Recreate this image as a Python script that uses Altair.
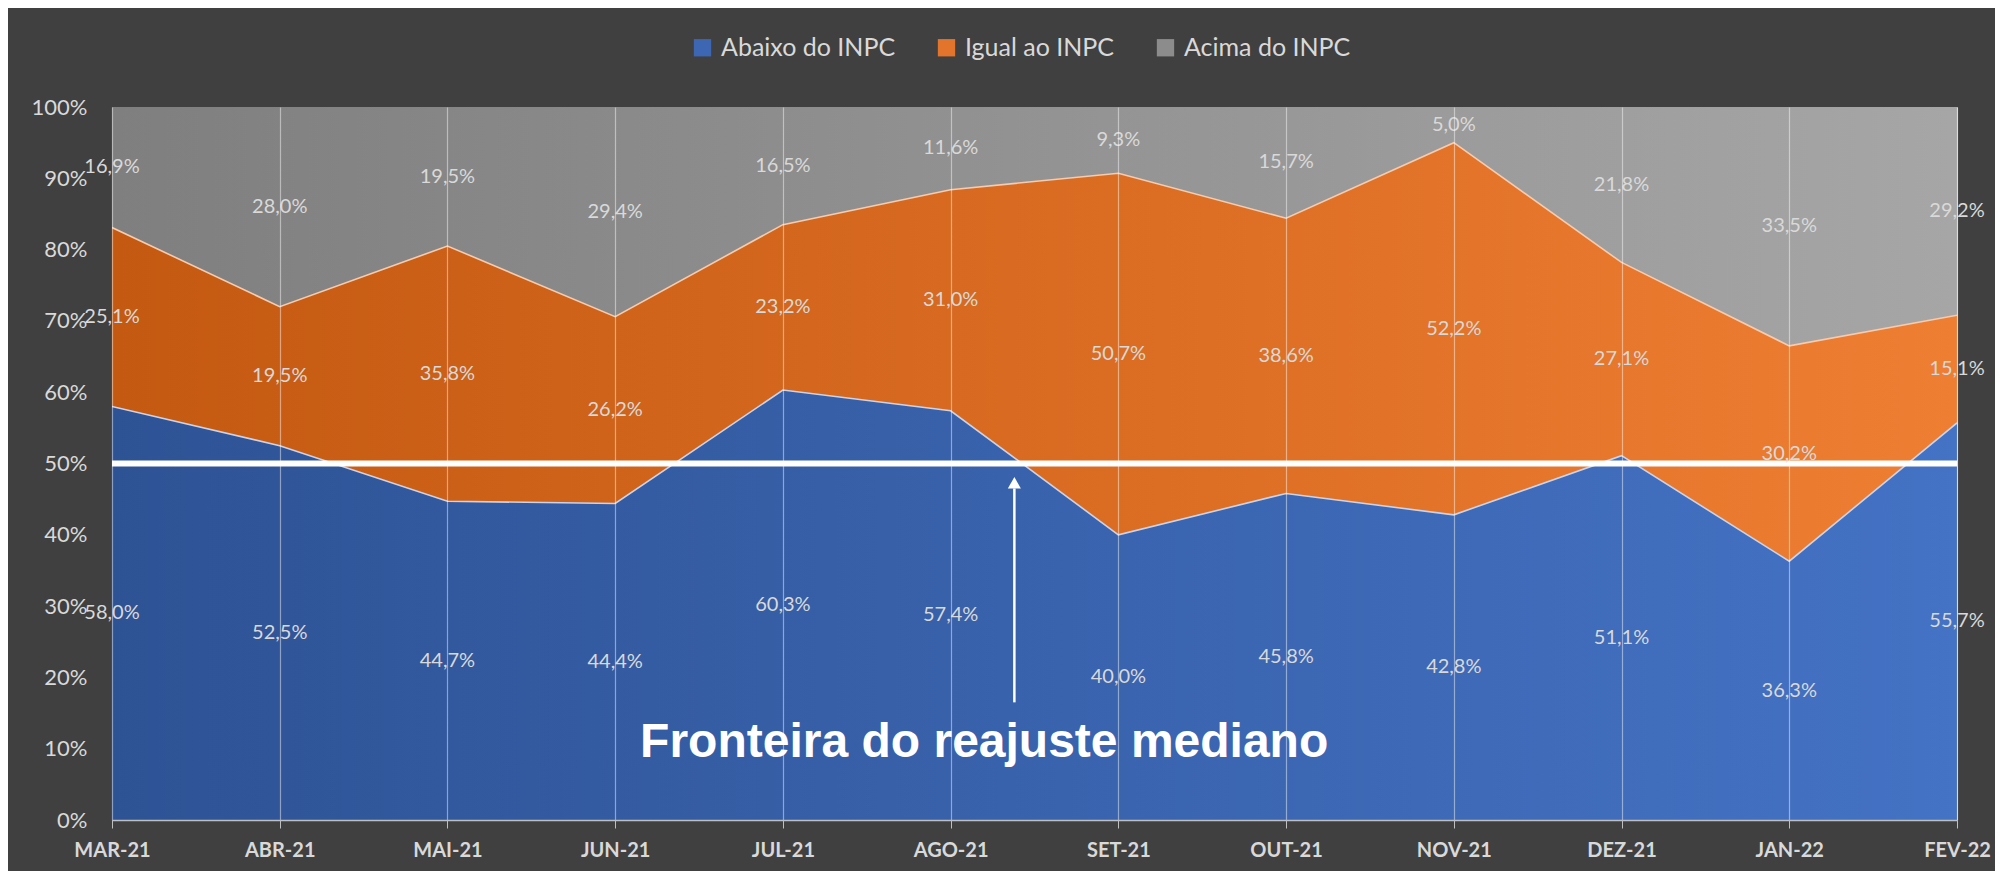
import altair as alt
import pandas as pd

months = ["MAR-21", "ABR-21", "MAI-21", "JUN-21", "JUL-21", "AGO-21",
          "SET-21", "OUT-21", "NOV-21", "DEZ-21", "JAN-22", "FEV-22"]
abaixo = [58.0, 52.5, 44.7, 44.4, 60.3, 57.4, 40.0, 45.8, 42.8, 51.1, 36.3, 55.7]
igual = [25.1, 19.5, 35.8, 26.2, 23.2, 31.0, 50.7, 38.6, 52.2, 27.1, 30.2, 15.1]
acima = [16.9, 28.0, 19.5, 29.4, 16.5, 11.6, 9.3, 15.7, 5.0, 21.8, 33.5, 29.2]
series_names = ["Abaixo do INPC", "Igual ao INPC", "Acima do INPC"]
y_ticks = [0, 10, 20, 30, 40, 50, 60, 70, 80, 90, 100]
median_value = [50]
annotation_text = "Fronteira do reajuste mediano"

# gradient colours (left -> right) per series
grad = {
    "Abaixo do INPC": ("#2E5395", "#4472C4"),
    "Igual ao INPC": ("#C45911", "#EE7E32"),
    "Acima do INPC": ("#7F7F7F", "#A6A6A6"),
}
legend_colors = ["#3D66B3", "#E3742B", "#8C8C8C"]
edge_colors = {"Abaixo do INPC": "#C9D4EC", "Igual ao INPC": "#F8CBAD"}

rows = []
for i, m in enumerate(months):
    lo = 0.0
    for name, vals in zip(series_names, [abaixo, igual, acima]):
        v = vals[i]
        rows.append(dict(idx=i, month=m, series=name, value=v, lo=lo,
                         hi=min(lo + v, 100.0), mid=lo + v / 2,
                         label=f"{v:.1f}%".replace(".", ",")))
        lo += v
df = pd.DataFrame(rows)

W, H = 1845, 713
x_scale = alt.Scale(domain=[0, len(months) - 1], nice=False, zero=False)
y_scale = alt.Scale(domain=[0, 100], nice=False, zero=True)
label_expr = "[" + ",".join(f"'{m}'" for m in months) + "][datum.value]"

x_axis = alt.Axis(values=list(range(len(months))), labelExpr=label_expr, title=None,
                  labelFlush=False, labelOverlap=False, labelBound=False,
                  labelFont="Lato", labelFontSize=20, labelFontWeight="bold",
                  labelColor="#D9D9D9", labelPadding=12,
                  tickColor="#BFBFBF", tickSize=8, tickWidth=1,
                  domainColor="#BFBFBF", domainWidth=1.5,
                  grid=True, gridColor="#FFFFFF", gridOpacity=0.45,
                  gridWidth=1.2, zindex=1)
y_axis = alt.Axis(values=y_ticks, labelExpr="datum.value + '%'", title=None,
                  labelFont="Lato", labelFontSize=22, labelColor="#D9D9D9",
                  labelPadding=25, ticks=False, domain=False, grid=False)


def X(field):
    return alt.X(field, scale=x_scale, axis=x_axis, title=None)


def Y(field):
    return alt.Y(field, scale=y_scale, axis=y_axis, title=None)


base = alt.Chart(df)

areas = []
for name in series_names:
    c0, c1 = grad[name]
    g = alt.Gradient(gradient="linear",
                     stops=[alt.GradientStop(color=c0, offset=0),
                            alt.GradientStop(color=c1, offset=1)],
                     x1=0, x2=1, y1=0, y2=0)
    areas.append(
        base.transform_filter(alt.datum.series == name)
        .mark_area(fill=g, clip=True, interpolate="linear")
        .encode(x=X("idx:Q"), y=Y("lo:Q"), y2="hi:Q")
    )

edges = []
for name in ["Abaixo do INPC", "Igual ao INPC"]:
    edges.append(
        base.transform_filter(alt.datum.series == name)
        .mark_line(color=edge_colors[name], strokeWidth=1.6, clip=True)
        .encode(x=X("idx:Q"), y=Y("hi:Q"))
    )

legend_layer = base.mark_point(opacity=0, filled=True).encode(
    x=X("idx:Q"),
    y=Y("mid:Q"),
    color=alt.Color("series:N",
                    scale=alt.Scale(domain=series_names, range=legend_colors),
                    legend=alt.Legend(title=None, orient="none", legendX=578, legendY=-72,
                                      direction="horizontal", symbolType="square",
                                      symbolSize=300, symbolOpacity=1, symbolStrokeWidth=0,
                                      labelFont="Lato", labelFontSize=25, labelLimit=0,
                                      labelColor="#D9D9D9", labelOffset=6,
                                      columnPadding=38)),
)

median_rule = alt.Chart(pd.DataFrame({"v": median_value})).mark_rule(
    color="white", strokeWidth=6).encode(y=Y("v:Q"))

labels = base.mark_text(font="Lato", fontSize=20, color="#D9D9D9",
                        baseline="middle", align="center").encode(
    x=X("idx:Q"),
    y=Y("mid:Q"),
    text="label:N",
)

ann = pd.DataFrame({"ax": [5.38], "y_low": [16.5], "y_high": [46.5], "head": [47.3],
                    "tx": [5.2], "ty": [10.8], "txt": [annotation_text]})
arrow_line = alt.Chart(ann).mark_rule(color="white", strokeWidth=2.5).encode(
    x=X("ax:Q"), y=Y("y_low:Q"), y2="y_high:Q")
arrow_head = alt.Chart(ann).mark_point(shape="triangle-up", filled=True, color="white",
                                       opacity=1, size=170).encode(
    x=X("ax:Q"), y=Y("head:Q"))
ann_text = alt.Chart(ann).mark_text(font="Liberation Sans", fontWeight="bold", fontSize=48,
                                    color="white", align="center", baseline="middle").encode(
    x=X("tx:Q"), y=Y("ty:Q"), text="txt:N")

chart = alt.layer(*areas, *edges, legend_layer, median_rule, labels,
                  arrow_line, arrow_head, ann_text).properties(
    width=W, height=H,
    autosize=alt.AutoSizeParams(type="none"),
    padding={"left": 104, "top": 99, "right": 38, "bottom": 51},
    background="#404040",
).configure_view(stroke="#BFBFBF", strokeWidth=1)

chart.save("out.html", embed_options={"renderer": "svg", "actions": False})
